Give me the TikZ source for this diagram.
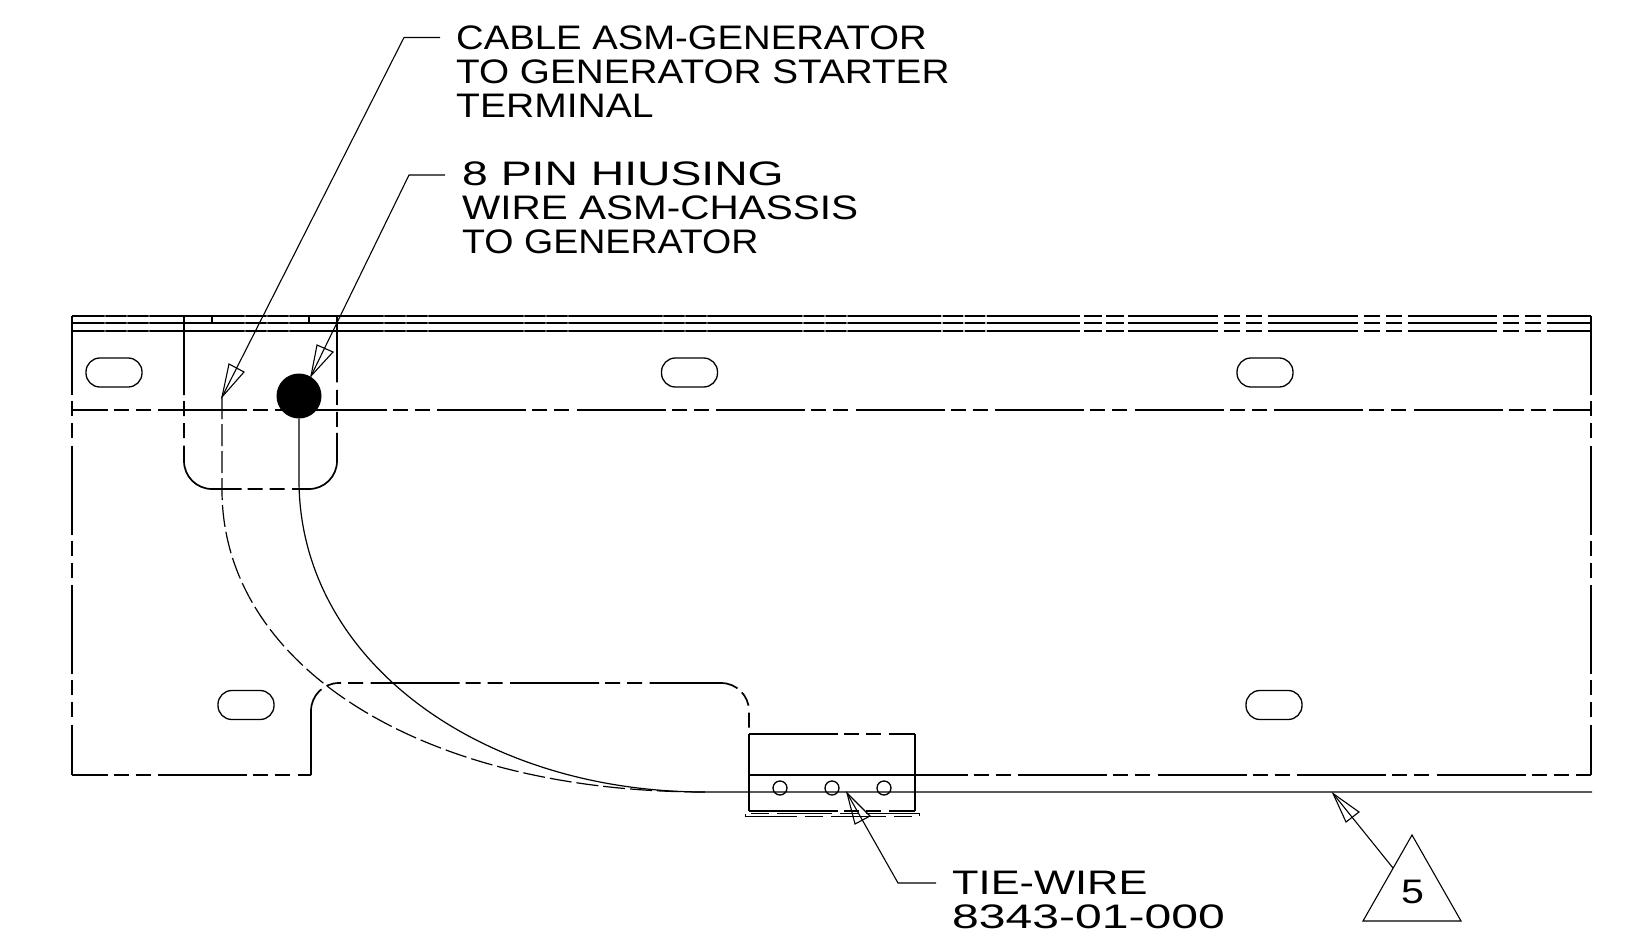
\documentclass[tikz,border=0pt]{standalone}
\usepackage{graphicx}
\usepackage{fontspec}
\setmainfont[FakeStretch=1.1]{Liberation Sans}
\tikzset{
  x=1pt,y=-1pt,
  edge/.style={line width=1.7pt,black},
  phantomline/.style={edge,dash pattern=on 89pt off 6pt on 15pt off 7pt on 15pt off 7.5pt,dash phase=53.5pt},
  thinphantom/.style={phantomline,line width=1.3pt},
  hiddenwire/.style={line width=1.2pt,black,dash pattern=on 22pt off 5pt},
  wire/.style={line width=1.2pt,black},
  leader/.style={line width=1.1pt,black},
  openhead/.style={line width=1.1pt,black,line join=miter},
  slotshape/.style={line width=1.3pt,black},
  hole/.style={circle,draw,line width=1.3pt,minimum size=14pt,inner sep=0pt,fill=none},
  label/.style={anchor=north west,inner sep=0pt,align=left,font=\fontsize{34pt}{34pt}\selectfont},
}
\newcommand{\slotat}[2]{\draw[slotshape,rounded corners=13.9pt] (#1-28,#2-14.5) rectangle (#1+28,#2+14.5);}
\newcommand{\widen}[2]{\scalebox{#1}[1]{#2}}
\begin{document}
\begin{tikzpicture}
\useasboundingbox (0,0) rectangle (1633,950);
% top strip
\foreach \yy in {316,331}{\draw[edge] (72,\yy) -- (1591,\yy);}
\draw[line width=1.1pt] (72,323) -- (1591,323);
\foreach \s/\w/\o in {152/1.5/.3,292/1.5/.3,431/1.5/.3,571/1.5/.3,710/1.5/.3,850/1.5/.45,989/2/.7,1129/4/1,1268/5.5/1,1408/6.5/1,1547/6.5/1}{
  \foreach \d in {3,25,47}{
    \fill[white,opacity=\o] (\s-\d-\w/2,314) rectangle (\s-\d+\w/2,333);
  }
}
% outline
\draw[phantomline,dash phase=10pt] (72,316) -- (72,775);
\draw[phantomline,dash phase=10pt] (1591,316) -- (1591,775);
\draw[phantomline] (72,410) -- (1591,410);
\draw[phantomline] (72,775) -- (311,775);
\draw[phantomline,dash phase=0pt,rounded corners=28pt] (311,775) -- (311,683) -- (749,683) -- (749,734);
\draw[thinphantom,dash phase=10pt] (749,775) -- (1591,775);
% cutout
\draw[phantomline,dash phase=10pt,rounded corners=28pt] (184,316) -- (184,489) -- (337,489) -- (337,316);
\draw[line width=1.1pt] (212,316) -- (212,323);
\draw[line width=1.1pt] (309,316) -- (309,323);
% slots
\slotat{114}{372.5}
\slotat{689.5}{372.5}
\slotat{1265}{372.5}
\slotat{246}{705}
\slotat{1274}{705}
% bracket
\draw[edge] (749,734) -- (749,811);
\draw[phantomline,dash phase=0pt] (749,734) -- (915,734);
\draw[edge] (915,734) -- (915,811);
\draw[wire] (749,775) -- (915,775);
\draw[phantomline,dash phase=0pt] (749,811) -- (915,811);
\draw[line width=1pt,dash pattern=on 55pt off 8pt on 18pt off 8pt] (745,813.5) rectangle (919,816.5);
\node[hole] (h1) at (780,788) {};
\node[hole] (h2) at (832,788) {};
\node[hole] (h3) at (884,788) {};
% wires
\node[circle,fill=black,minimum size=45pt,inner sep=0pt] (plug) at (299,396) {};
\coordinate (cabletip) at (222,397);
\coordinate (wirejoin) at (705,792);
\coordinate (wireend) at (1592,792);
\draw[wire] (plug.south) -- (299,480) .. controls (299,660) and (480,792) .. (wirejoin) -- (wireend);
\draw[hiddenwire] (cabletip) -- (222,490) .. controls (222,665) and (420,792) .. (wirejoin);
% callouts
\node[label] (t1) at (456,26) {\widen{1.023}{CABLE ASM-GENERATOR}\\\widen{1.035}{TO GENERATOR STARTER}\\\widen{1.044}{TERMINAL}};
\node[label] (t2) at (462,162) {\widen{1.238}{8 PIN HIUSING}\\\widen{1.083}{WIRE ASM-CHASSIS}\\\widen{1.004}{TO GENERATOR}};
\node[label] (t3) at (952,871) {\widen{1.16}{TIE-WIRE}\\\widen{1.286}{8343-01-000}};
\coordinate (k1) at (404,37.5);
\coordinate (e1) at (440,37.5);
\coordinate (k2) at (409,175);
\coordinate (e2) at (445,175);
\coordinate (k3) at (898,883);
\coordinate (e3) at (936,883);
\coordinate (tip2) at (311,376);
\coordinate (tip3) at (847,793);
\coordinate (tip5) at (1333,793.5);
\coordinate (apex) at (1412,835);
\coordinate (baseL) at (1363,921);
\coordinate (baseR) at (1461,921);
\coordinate (k5) at (1393,868);
\draw[leader] (e1) -- (k1) -- (cabletip);
\draw[openhead] (cabletip) -- (229,364) -- (244,372) -- cycle;
\draw[leader] (e2) -- (k2) -- (tip2);
\draw[openhead] (tip2) -- (317,345) -- (333,352) -- cycle;
\draw[leader] (e3) -- (k3) -- (tip3);
\draw[openhead] (tip3) -- (855,824) -- (870,816) -- cycle;
\draw[leader] (k5) -- (tip5);
\draw[openhead] (tip5) -- (1346,822) -- (1359,812) -- cycle;
\draw[leader] (apex) -- (baseL) -- (baseR) -- cycle;
\node[inner sep=0pt,font=\fontsize{34pt}{34pt}\selectfont] (five) at (1412.5,892) {\widen{1.1}{5}};
\end{tikzpicture}
\end{document}
